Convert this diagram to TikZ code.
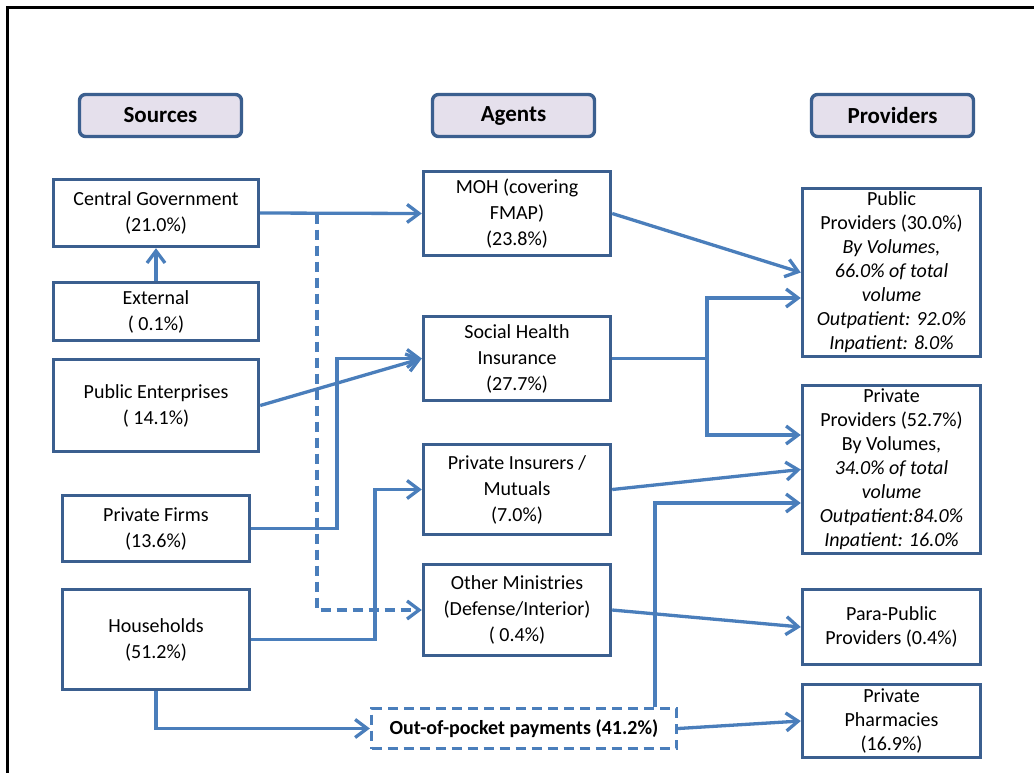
\documentclass[tikz,border=0pt]{standalone}
\usepackage{fontspec}
\setmainfont{Carlito}
\usetikzlibrary{arrows.meta}
\definecolor{boxblue}{HTML}{3B5F8F}
\definecolor{linkblue}{HTML}{4A7EBB}
\definecolor{headfill}{HTML}{E5E0EC}
\tikzset{
  box/.style={draw=boxblue, line width=3.4pt, fill=white, align=center, inner sep=1pt,
    font=\fontsize{20}{26}\selectfont},
  provbox/.style={box, font=\fontsize{20}{24}\selectfont},
  header/.style={draw=boxblue, line width=3.4pt, fill=headfill, rounded corners=6pt,
    font=\fontsize{23}{28}\selectfont\bfseries, minimum width=162pt, minimum height=42pt},
  link/.style={draw=linkblue, line width=3.3pt},
  tip/.style={-{Straight Barb[length=12pt,width=18pt]}},
  arr/.style={link, tip},
  dashlink/.style={link, dash pattern=on 10pt off 6pt},
}
\begin{document}
\begin{tikzpicture}[x=1pt,y=-1pt]
\useasboundingbox (0,0) rectangle (1034,772);
\clip (0,0) rectangle (1034,772);
\fill[white] (0,0) rectangle (1034,772);
% outer frame
\draw[line width=3.5pt, black] (7.5,800) -- (7.5,7.5) -- (1060,7.5);

% headers
\node[header] (hs) at (160.5,115.5) {Sources};
\node[header] (ha) at (513.5,115.5) {Agents};
\node[header] (hp) at (892.5,115.5) {Providers};

% sources
\node[box, minimum width=205pt, minimum height=67pt] (cg) at (156,213) {Central Government\\(21.0\%)};
\node[box, minimum width=205pt, minimum height=58pt] (ext) at (156,311.5) {External\\( 0.1\%)};
\node[box, minimum width=205pt, minimum height=92pt] (pe) at (156,405.5) {Public Enterprises\\( 14.1\%)};
\node[box, minimum width=187pt, minimum height=66pt] (pf) at (156,528.5) {Private Firms\\(13.6\%)};
\node[box, minimum width=187pt, minimum height=100pt] (hh) at (156,639.5) {Households\\(51.2\%)};

% agents
\node[box, minimum width=187pt, minimum height=84pt] (moh) at (517,213.5) {MOH (covering\\FMAP)\\(23.8\%)};
\node[box, minimum width=187pt, minimum height=84pt] (shi) at (517,358.5) {Social Health\\Insurance\\(27.7\%)};
\node[box, minimum width=187pt, minimum height=90pt] (pi) at (517,489.5) {Private Insurers /\\Mutuals\\(7.0\%)};
\node[box, minimum width=187pt, minimum height=91pt] (om) at (517,610) {Other Ministries\\(Defense/Interior)\\( 0.4\%)};
\node[box, draw=linkblue, dash pattern=on 10pt off 6pt, line width=3.3pt, minimum width=305pt, minimum height=40pt,
  font=\fontsize{20}{24}\selectfont\bfseries] (oop) at (524,728.5) {Out-of-pocket payments (41.2\%)};

% providers
\node[provbox, minimum width=178pt, minimum height=168pt] (pub) at (891.5,272.5)
  {Public\\Providers (30.0\%)\\\textit{By Volumes,}\\\textit{66.0\% of total}\\\textit{volume}\\\textit{Outpatient: 92.0\%}\\\textit{Inpatient: 8.0\%}};
\node[provbox, minimum width=178pt, minimum height=168pt] (priv) at (891.5,469.5)
  {Private\\Providers (52.7\%)\\By Volumes,\\\textit{34.0\% of total}\\\textit{volume}\\\textit{Outpatient:84.0\%}\\\textit{Inpatient: 16.0\%}};
\node[provbox, minimum width=178pt, minimum height=75pt] (para) at (891.5,627) {Para-Public\\Providers (0.4\%)};
\node[provbox, minimum width=178pt, minimum height=73pt] (ph) at (891.5,721) {Private\\Pharmacies\\(16.9\%)};

% junction coordinates
\coordinate (dj) at (317,213.5);
\coordinate (pfk) at (337,358.5);
\coordinate (hhk) at (375,489.5);
\coordinate (shik) at (707,358.5);

% connectors: sources -> agents
\draw[arr] (ext.north) -- (cg.south);
\draw[dashlink, tip] (dj) |- (om.west);
\draw[arr] (cg.east) -- (moh.west);
\draw[arr] (pe.east) -- (shi.west);
\draw[arr] (pf.east) -| (pfk) -- (shi.west);
\draw[arr] (hh.east) -| (hhk) -- (pi.west);
\draw[arr] (hh.south) |- (oop.west);

% agents -> providers
\draw[arr] (moh.east) -- (pub.west);
\draw[link] (shi.east) -- (shik);
\draw[arr] (shik) |- (pub.west |- 0,298);
\draw[arr] (shik) |- (priv.west |- 0,435);
\draw[arr] (pi.east) -- (priv.west);
\draw[arr] (oop.north -| 655,0) |- (priv.west |- 0,503);
\draw[arr] (om.east) -- (para.west);
\draw[arr] (oop.east) -- (ph.west);
\end{tikzpicture}
\end{document}
